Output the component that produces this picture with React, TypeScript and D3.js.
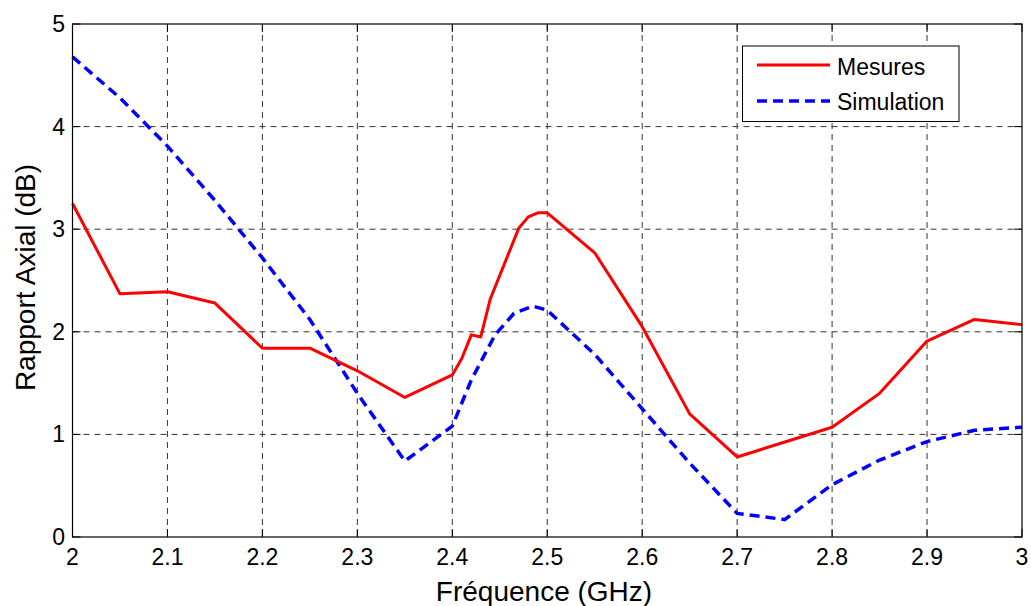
import React from "react";
import * as d3 from "d3";

const mesuresX = [2.0, 2.05, 2.1, 2.15, 2.2, 2.25, 2.3, 2.35, 2.4, 2.41, 2.42, 2.43, 2.44, 2.47, 2.48, 2.49, 2.5, 2.55, 2.6, 2.65, 2.7, 2.8, 2.85, 2.9, 2.95, 3.0];
const mesuresY = [3.25, 2.37, 2.39, 2.28, 1.84, 1.84, 1.62, 1.36, 1.58, 1.74, 1.97, 1.95, 2.32, 3.01, 3.12, 3.16, 3.16, 2.77, 2.05, 1.2, 0.78, 1.07, 1.4, 1.91, 2.12, 2.07];
const simX = [2.0, 2.05, 2.1, 2.15, 2.2, 2.25, 2.3, 2.35, 2.4, 2.42, 2.445, 2.465, 2.485, 2.5, 2.55, 2.6, 2.65, 2.7, 2.75, 2.8, 2.85, 2.9, 2.95, 3.0];
const simY = [4.68, 4.28, 3.81, 3.28, 2.72, 2.12, 1.4, 0.74, 1.08, 1.53, 1.97, 2.18, 2.25, 2.21, 1.78, 1.25, 0.72, 0.23, 0.17, 0.51, 0.75, 0.93, 1.04, 1.07];
const xTicks = [2, 2.1, 2.2, 2.3, 2.4, 2.5, 2.6, 2.7, 2.8, 2.9, 3];
const yTicks = [0, 1, 2, 3, 4, 5];
const seriesNames = ["Mesures", "Simulation"];

const W = 1031, H = 606;
const L = 72.5, R = 1022, T = 24, B = 537;
const font = "'Liberation Sans', Arial, sans-serif";

export default function App() {
  const x = d3.scaleLinear().domain([2, 3]).range([L, R]);
  const y = d3.scaleLinear().domain([0, 5]).range([B, T]);
  const line = d3.line<number>().x((d) => d[0]).y((d) => d[1]);
  const mPts = mesuresX.map((v, i) => [x(v), y(mesuresY[i])] as any);
  const sPts = simX.map((v, i) => [x(v), y(simY[i])] as any);
  const fmt = (v: number) => (Number.isInteger(v) ? String(v) : v.toFixed(1));
  return (
    <svg width={W} height={H} style={{ position: "absolute", left: 0, top: 0, background: "#fff" }}>
      <rect x={0} y={0} width={W} height={H} fill="#fff" />
      {xTicks.slice(1, -1).map((t) => (
        <line key={"gx" + t} x1={x(t)} x2={x(t)} y1={T} y2={B} stroke="#333" strokeWidth={1} strokeDasharray="6,5" />
      ))}
      {yTicks.slice(1, -1).map((t) => (
        <line key={"gy" + t} x1={L} x2={R} y1={y(t)} y2={y(t)} stroke="#333" strokeWidth={1} strokeDasharray="6,5" />
      ))}
      {xTicks.map((t) => (
        <g key={"tx" + t}>
          <line x1={x(t)} x2={x(t)} y1={B} y2={B - 8} stroke="#000" />
          <line x1={x(t)} x2={x(t)} y1={T} y2={T + 8} stroke="#000" />
          <text x={x(t)} y={565} textAnchor="middle" fontFamily={font} fontSize={23} fill="#000">{fmt(t)}</text>
        </g>
      ))}
      {yTicks.map((t) => (
        <g key={"ty" + t}>
          <line x1={L} x2={L + 8} y1={y(t)} y2={y(t)} stroke="#000" />
          <line x1={R} x2={R - 8} y1={y(t)} y2={y(t)} stroke="#000" />
          <text x={65} y={y(t) + 8} textAnchor="end" fontFamily={font} fontSize={23} fill="#000">{fmt(t)}</text>
        </g>
      ))}
      <path d={line(sPts) || ""} fill="none" stroke="#0000ff" strokeWidth={3.5} strokeDasharray="10,6" />
      <path d={line(mPts) || ""} fill="none" stroke="#ff0000" strokeWidth={3} strokeLinejoin="round" />
      <rect x={L} y={T} width={R - L} height={B - T} fill="none" stroke="#000" strokeWidth={1.2} />
      <g>
        <rect x={742.5} y={46} width={216.5} height={75.5} fill="#fff" stroke="#000" strokeWidth={1} />
        <line x1={757} x2={830} y1={65} y2={65} stroke="#ff0000" strokeWidth={3} />
        <line x1={757} x2={830} y1={101} y2={101} stroke="#0000ff" strokeWidth={3.5} strokeDasharray="10,6" />
        <text x={837} y={75} fontFamily={font} fontSize={23} fill="#000">{seriesNames[0]}</text>
        <text x={837} y={110} fontFamily={font} fontSize={23} fill="#000">{seriesNames[1]}</text>
      </g>
      <text x={544} y={601} textAnchor="middle" fontFamily={font} fontSize={28} fill="#000">Fréquence (GHz)</text>
      <text transform={`translate(35,277.5) rotate(-90)`} textAnchor="middle" fontFamily={font} fontSize={28} fill="#000">Rapport Axial (dB)</text>
    </svg>
  );
}
